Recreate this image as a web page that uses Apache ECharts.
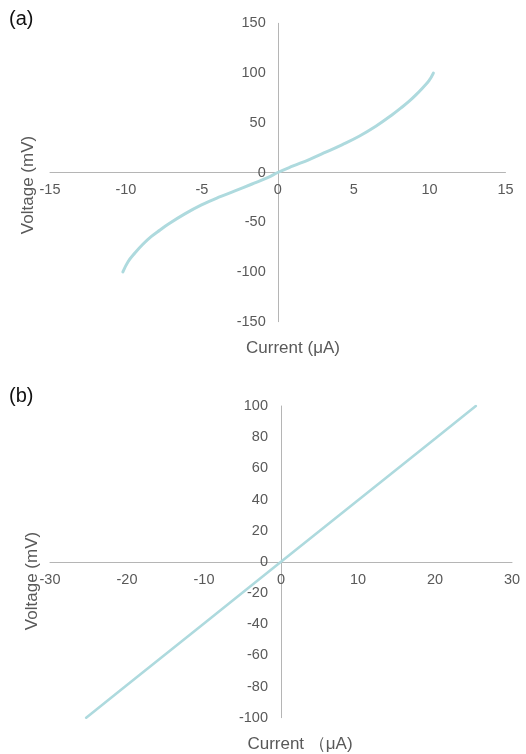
<!DOCTYPE html>
<html>
<head>
<meta charset="utf-8">
<script src="https://cdn.jsdelivr.net/npm/echarts@6/dist/echarts.min.js"></script>
<style>html,body{margin:0;padding:0;background:#fff}#c{width:526px;height:754px}</style>
</head>
<body>
<div id="c"></div>
<script>
// Panel (a): nonlinear I-V curve
const currentA = [-10.2, -9.85, -9.41, -8.9, -8.32, -7.75, -7.22, -6.12, -5.02, -3.92, -2.82, -1.73, -0.63, 0, 0.97, 2.07, 3.16, 4.26, 5.36, 6.46, 7.56, 8.1, 8.66, 9.1, 9.54, 9.95, 10.25];
const voltageA = [-100, -89.5, -81, -72.4, -64.3, -57.8, -52, -41.6, -32.6, -25.1, -18.5, -11.8, -5.0, 0, 6.3, 13, 20.4, 28.1, 36.5, 46.5, 58.3, 64.7, 71.7, 78, 85, 92, 100];
// Panel (b): linear I-V line
const currentB = [-25.3, -20, -10, 0, 10, 20, 25.3];
const voltageB = [-100, -79, -39.5, 0, 39.5, 79, 100];

const xTitleA = 'Current (μA)';
const xTitleB = 'Current （μA)';
const yTitle = 'Voltage (mV)';
const panelLabels = ['(a)', '(b)'];

const lineColor = '#AEDADE';
const axisColor = '#B5B5B5';
const textColor = '#595959';
const font = '"Liberation Sans", Arial, sans-serif';

const xRanges = [[-15, 15, 5], [-30, 30, 10]];
const yRanges = [[-150, 150, 50], [-100, 100, 20]];

function pairs(xs, ys) { return xs.map((x, i) => [x, ys[i]]); }

function axisCommon(r, margin, gridIndex) {
  return {
    type: 'value', min: r[0], max: r[1], interval: r[2], gridIndex,
    axisLine: { show: true, onZero: false, lineStyle: { color: axisColor, width: 1 } },
    axisTick: { show: false },
    splitLine: { show: false },
    axisLabel: { color: textColor, fontSize: 14.5, fontFamily: font, margin }
  };
}

const chart = echarts.init(document.getElementById('c'), null, { renderer: 'canvas' });
chart.setOption({
  animation: false,
  backgroundColor: '#fff',
  grid: [
    { left: 50, right: 20.5, top: 23.3, height: 298.4, containLabel: false },
    { left: 50, right: 14, top: 406, height: 311.7, containLabel: false }
  ],
  xAxis: [ axisCommon(xRanges[0], 10, 0), axisCommon(xRanges[1], 11, 1) ],
  yAxis: [ axisCommon(yRanges[0], 12, 0), axisCommon(yRanges[1], 13, 1) ],
  series: [
    {
      type: 'line', xAxisIndex: 0, yAxisIndex: 0,
      data: pairs(currentA, voltageA),
      showSymbol: false, smooth: 0.4,
      lineStyle: { color: lineColor, width: 3, cap: 'round', join: 'round' }
    },
    {
      type: 'line', xAxisIndex: 1, yAxisIndex: 1,
      data: pairs(currentB, voltageB),
      showSymbol: false,
      lineStyle: { color: lineColor, width: 2.6, cap: 'round' }
    }
  ],
  graphic: [
    { type: 'text', left: 9, top: 9, style: { text: panelLabels[0], fontSize: 20, fontFamily: font, fill: '#111' } },
    { type: 'text', left: 9, top: 386, style: { text: panelLabels[1], fontSize: 20, fontFamily: font, fill: '#111' } },
    { type: 'text', x: 293, y: 348, style: { text: xTitleA, fontSize: 17, fontFamily: font, fill: textColor, textAlign: 'center', textVerticalAlign: 'middle' } },
    { type: 'text', x: 300, y: 744, style: { text: xTitleB, fontSize: 17, fontFamily: font, fill: textColor, textAlign: 'center', textVerticalAlign: 'middle' } },
    { type: 'text', x: 28, y: 185, rotation: Math.PI / 2, style: { text: yTitle, fontSize: 17, fontFamily: font, fill: textColor, textAlign: 'center', textVerticalAlign: 'middle' } },
    { type: 'text', x: 32, y: 581, rotation: Math.PI / 2, style: { text: yTitle, fontSize: 17, fontFamily: font, fill: textColor, textAlign: 'center', textVerticalAlign: 'middle' } }
  ]
});

// Move each axis (line + labels) onto the other axis's zero using the library's own scales
const xOff = [], yOff = [];
for (let i = 0; i < 2; i++) {
  const zeroX = chart.convertToPixel({ xAxisIndex: i }, 0);
  const leftX = chart.convertToPixel({ xAxisIndex: i }, xRanges[i][0]);
  const zeroY = chart.convertToPixel({ yAxisIndex: i }, 0);
  const bottomY = chart.convertToPixel({ yAxisIndex: i }, yRanges[i][0]);
  yOff.push({ offset: -(zeroX - leftX) });
  xOff.push({ offset: -(bottomY - zeroY) });
}
chart.setOption({ xAxis: xOff, yAxis: yOff });
</script>
</body>
</html>
